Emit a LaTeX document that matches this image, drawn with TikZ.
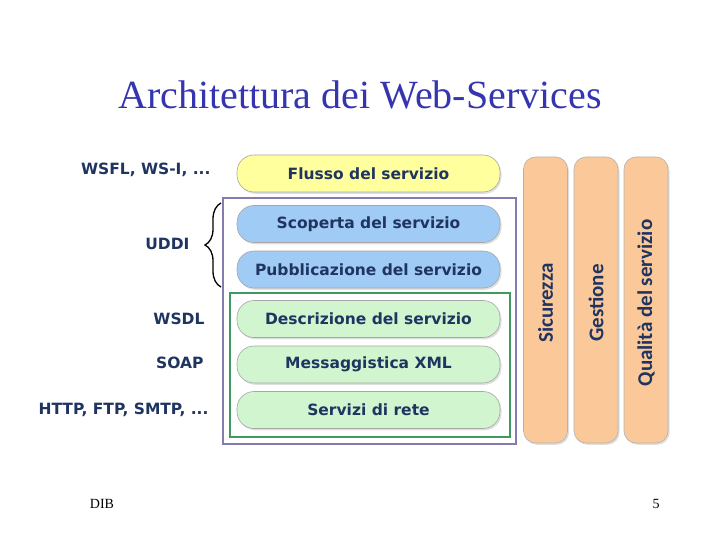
\documentclass[tikz,border=0pt]{standalone}
\usepackage{fontspec}
\setmainfont{Liberation Serif}
\newfontfamily\verdanafont{DejaVu Sans}
\newfontfamily\carlitofont{Carlito}
\usetikzlibrary{shadows,decorations.pathreplacing}
\definecolor{navy}{HTML}{1F3560}
\definecolor{titleblue}{HTML}{3535B0}
\definecolor{pillyellow}{HTML}{FFFF9E}
\definecolor{pillblue}{HTML}{9FCBF5}
\definecolor{pillgreen}{HTML}{D0F5CF}
\definecolor{barorange}{HTML}{FBC89A}
\definecolor{framepurple}{HTML}{857BAE}
\definecolor{framegreen}{HTML}{3F9A62}
\tikzset{
  pill/.style={draw=black!35, line width=0.6pt, rounded corners=17pt,
    minimum width=263pt, minimum height=37pt, inner sep=0pt,
    font=\verdanafont\bfseries\fontsize{15.5}{17}\selectfont, text=navy,
    drop shadow={shadow xshift=1.5pt, shadow yshift=-1.8pt, opacity=0.25}},
  bar/.style={draw=black!30, line width=0.6pt, rounded corners=12pt,
    fill=barorange, minimum width=44pt, minimum height=286pt, inner sep=0pt,
    drop shadow={shadow xshift=1.5pt, shadow yshift=-1.8pt, opacity=0.25}},
  bartext/.style={rotate=90, font=\carlitofont\bfseries\fontsize{21}{24}\selectfont, text=navy},
  stdlabel/.style={left, font=\verdanafont\bfseries\fontsize{15.5}{18}\selectfont, text=navy},
  titletext/.style={font=\fontsize{40}{46}\selectfont, text=titleblue}
}
\begin{document}
\begin{tikzpicture}[x=1pt,y=-1pt]
\useasboundingbox (0,0) rectangle (720,540);
% title
\node[titletext] (title) at (360,95) {Architettura dei Web-Services};
% frames
\draw[framepurple, line width=1.6pt] (223,198) rectangle (516,444);
\draw[framegreen, line width=1.6pt] (230,293) rectangle (510,437);
% stack of layers
\node[pill, fill=pillyellow] (flusso) at (368.5,173.5) {Flusso del servizio};
\node[pill, fill=pillblue] (scoperta) at (368.5,224) {Scoperta del servizio};
\node[pill, fill=pillblue] (pubblicazione) at (368.5,269.5) {Pubblicazione del servizio};
\node[pill, fill=pillgreen] (descrizione) at (368.5,319) {Descrizione del servizio};
\node[pill, fill=pillgreen] (messaggistica) at (368.5,364.5) {Messaggistica XML};
\node[pill, fill=pillgreen] (rete) at (368.5,410) {Servizi di rete};
% vertical bars
\node[bar] (sicurezza) at (545.5,300) {};
\node[bartext] at ([yshift=-3pt]sicurezza) {Sicurezza};
\node[bar] (gestione) at (596,300) {};
\node[bartext] at ([yshift=-3pt]gestione) {Gestione};
\node[bar] (qualita) at (646,300) {};
\node[bartext] at ([yshift=-3pt]qualita) {Qualità del servizio};
% protocols
\node[stdlabel] (wsfl) at (214,170) {WSFL, WS-I, ...};
\node[stdlabel] (uddi) at (193,244) {UDDI};
\node[stdlabel] (wsdl) at (208,319) {WSDL};
\node[stdlabel] (soap) at (207,363) {SOAP};
\node[stdlabel] (http) at (212,410) {HTTP, FTP, SMTP, ...};
\coordinate (bracelow) at (221,287);
\coordinate (bracehigh) at (221,203);
\draw[black, line width=1.3pt, decorate, decoration={brace, amplitude=16pt}] (bracelow) -- (bracehigh);
% footer
\node (dib) at (102,504) {\fontsize{14}{16}\selectfont DIB};
\node (page) at (656,504) {\fontsize{14}{16}\selectfont 5};
\end{tikzpicture}
\end{document}
